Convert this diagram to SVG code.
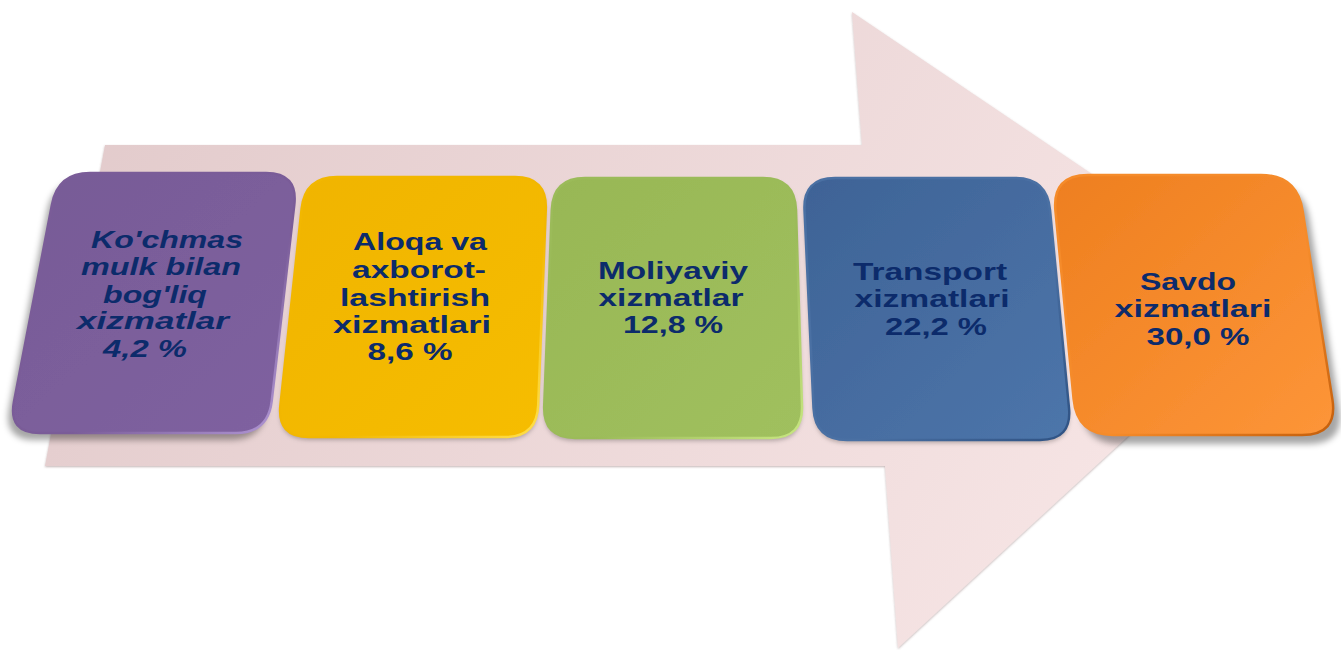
<svg xmlns="http://www.w3.org/2000/svg" width="1341" height="650" viewBox="0 0 1341 650">
<style>
  .lbl { font-family: "Liberation Sans", Arial, sans-serif; font-weight: bold; font-size: 24px; fill: #0c2b6b; text-anchor: middle; }
  .it { font-style: italic; }
  .rim { fill: none; stroke-width: 2.5; }
</style>
<defs>
  <linearGradient id="gArrow" x1="0" y1="0" x2="1" y2="0.3">
    <stop offset="0" stop-color="#e1c9ca"/>
    <stop offset="1" stop-color="#f6e4e4"/>
  </linearGradient>
  <linearGradient id="gPurple" x1="0" y1="0" x2="1" y2="1">
    <stop offset="0" stop-color="#775a96"/>
    <stop offset="1" stop-color="#7f62a0"/>
  </linearGradient>
  <linearGradient id="gYellow" x1="0" y1="0" x2="1" y2="1">
    <stop offset="0" stop-color="#f0b400"/>
    <stop offset="1" stop-color="#f6bd05"/>
  </linearGradient>
  <linearGradient id="gGreen" x1="0" y1="0" x2="1" y2="1">
    <stop offset="0" stop-color="#98b755"/>
    <stop offset="1" stop-color="#a0c05e"/>
  </linearGradient>
  <linearGradient id="gBlue" x1="0" y1="0" x2="1" y2="1">
    <stop offset="0" stop-color="#3e6396"/>
    <stop offset="1" stop-color="#4d75aa"/>
  </linearGradient>
  <linearGradient id="gOrange" x1="0" y1="0" x2="1" y2="1">
    <stop offset="0" stop-color="#ee7f1f"/>
    <stop offset="1" stop-color="#fd9538"/>
  </linearGradient>
  <linearGradient id="rPurple" x1="0" y1="0" x2="1" y2="1">
    <stop offset="0.6" stop-color="#7a5c98"/>
    <stop offset="1" stop-color="#b49ad8"/>
  </linearGradient>
  <linearGradient id="rYellow" x1="0" y1="0" x2="1" y2="1">
    <stop offset="0.6" stop-color="#f2b700"/>
    <stop offset="1" stop-color="#ffe04d"/>
  </linearGradient>
  <linearGradient id="rGreen" x1="0" y1="0" x2="1" y2="1">
    <stop offset="0.6" stop-color="#9bbb59"/>
    <stop offset="1" stop-color="#c8e682"/>
  </linearGradient>
  <linearGradient id="rBlue" x1="0" y1="0" x2="1" y2="1">
    <stop offset="0.6" stop-color="#4a70a3"/>
    <stop offset="1" stop-color="#2f5283"/>
  </linearGradient>
  <linearGradient id="rOrange" x1="0" y1="0" x2="1" y2="1">
    <stop offset="0.6" stop-color="#f58b2a"/>
    <stop offset="1" stop-color="#c45f0c"/>
  </linearGradient>
  <filter id="shL" x="-20%" y="-20%" width="140%" height="140%">
    <feDropShadow dx="-5" dy="7" stdDeviation="3" flood-color="#000" flood-opacity="0.35"/>
  </filter>
  <filter id="shM" x="-20%" y="-20%" width="140%" height="140%">
    <feDropShadow dx="0" dy="3" stdDeviation="2" flood-color="#000" flood-opacity="0.25"/>
  </filter>
  <filter id="shR" x="-20%" y="-20%" width="140%" height="140%">
    <feDropShadow dx="7" dy="9" stdDeviation="3" flood-color="#000" flood-opacity="0.35"/>
  </filter>
  <filter id="shA" x="-5%" y="-5%" width="110%" height="110%">
    <feDropShadow dx="0" dy="1" stdDeviation="1" flood-color="#7a5a5a" flood-opacity="0.45"/>
  </filter>
</defs>

<g id="arrow">
  <polygon points="105,145 862,145 852,12 1277,299 898,648 885,466 45,466" fill="url(#gArrow)" filter="url(#shA)"/>
</g>

<g id="connectors"></g>

<g id="node1">
  <path d="M 90,173 L 266,173 Q 298,173 294.3,204.8 L 271.7,401.2 Q 268,433 236,433 L 40,433 Q 8,433 14,401.6 L 52,204.4 Q 58,173 90,173 Z" fill="url(#gPurple)" filter="url(#shL)"/>
  <path class="rim" d="M 90,173 L 266,173 Q 298,173 294.3,204.8 L 271.7,401.2 Q 268,433 236,433 L 40,433 Q 8,433 14,401.6 L 52,204.4 Q 58,173 90,173 Z" stroke="url(#rPurple)"/>
  <text class="lbl it" x="167" y="248" textLength="152" lengthAdjust="spacingAndGlyphs">Ko'chmas</text>
  <text class="lbl it" x="161" y="275" textLength="160" lengthAdjust="spacingAndGlyphs">mulk bilan</text>
  <text class="lbl it" x="155" y="303" textLength="104" lengthAdjust="spacingAndGlyphs">bog'liq</text>
  <text class="lbl it" x="153" y="329" textLength="152" lengthAdjust="spacingAndGlyphs">xizmatlar</text>
  <text class="lbl it" x="145" y="357" textLength="84" lengthAdjust="spacingAndGlyphs">4,2 %</text>
</g>

<g id="node2">
  <path d="M 337,177 L 515,177 Q 547,177 545.8,209 L 538.2,405 Q 537,437 505,437 L 309,437 Q 277,437 280.4,405.2 L 301.6,208.8 Q 305,177 337,177 Z" fill="url(#gYellow)" filter="url(#shM)"/>
  <path class="rim" d="M 337,177 L 515,177 Q 547,177 545.8,209 L 538.2,405 Q 537,437 505,437 L 309,437 Q 277,437 280.4,405.2 L 301.6,208.8 Q 305,177 337,177 Z" stroke="url(#rYellow)"/>
  <text class="lbl" x="420" y="250" textLength="134" lengthAdjust="spacingAndGlyphs">Aloqa va</text>
  <text class="lbl" x="419" y="278" textLength="134" lengthAdjust="spacingAndGlyphs">axborot-</text>
  <text class="lbl" x="415" y="306" textLength="150" lengthAdjust="spacingAndGlyphs">lashtirish</text>
  <text class="lbl" x="412" y="333" textLength="158" lengthAdjust="spacingAndGlyphs">xizmatlari</text>
  <text class="lbl" x="410" y="360" textLength="85" lengthAdjust="spacingAndGlyphs">8,6 %</text>
</g>

<g id="node3">
  <path d="M 585,178 L 763,178 Q 795,178 796,210 L 802,406 Q 803,438 771,438 L 575,438 Q 543,438 544.2,406 L 551.8,210 Q 553,178 585,178 Z" fill="url(#gGreen)" filter="url(#shM)"/>
  <path class="rim" d="M 585,178 L 763,178 Q 795,178 796,210 L 802,406 Q 803,438 771,438 L 575,438 Q 543,438 544.2,406 L 551.8,210 Q 553,178 585,178 Z" stroke="url(#rGreen)"/>
  <text class="lbl" x="673" y="279" textLength="150" lengthAdjust="spacingAndGlyphs">Moliyaviy</text>
  <text class="lbl" x="671" y="306" textLength="145" lengthAdjust="spacingAndGlyphs">xizmatlar</text>
  <text class="lbl" x="673" y="333" textLength="100" lengthAdjust="spacingAndGlyphs">12,8 %</text>
</g>

<g id="node4">
  <path d="M 835,178 L 1015,178 Q 1047,178 1050,209.9 L 1069,408.1 Q 1072,440 1040,440 L 847,440 Q 815,440 813.5,408 L 804.5,210 Q 803,178 835,178 Z" fill="url(#gBlue)" filter="url(#shM)"/>
  <path class="rim" d="M 835,178 L 1015,178 Q 1047,178 1050,209.9 L 1069,408.1 Q 1072,440 1040,440 L 847,440 Q 815,440 813.5,408 L 804.5,210 Q 803,178 835,178 Z" stroke="url(#rBlue)"/>
  <text class="lbl" x="930" y="280" textLength="154" lengthAdjust="spacingAndGlyphs">Transport</text>
  <text class="lbl" x="932" y="307" textLength="155" lengthAdjust="spacingAndGlyphs">xizmatlari</text>
  <text class="lbl" x="936" y="335" textLength="102" lengthAdjust="spacingAndGlyphs">22,2 %</text>
</g>

<g id="node5">
  <path d="M 1088,175 L 1261,175 Q 1297,175 1302.6,210.6 L 1332.4,399.4 Q 1338,435 1302,435 L 1113,435 Q 1077,435 1073.6,399.2 L 1055.4,210.8 Q 1052,175 1088,175 Z" fill="url(#gOrange)" filter="url(#shR)"/>
  <path class="rim" d="M 1088,175 L 1261,175 Q 1297,175 1302.6,210.6 L 1332.4,399.4 Q 1338,435 1302,435 L 1113,435 Q 1077,435 1073.6,399.2 L 1055.4,210.8 Q 1052,175 1088,175 Z" stroke="url(#rOrange)"/>
  <text class="lbl" x="1188" y="290" textLength="96" lengthAdjust="spacingAndGlyphs">Savdo</text>
  <text class="lbl" x="1193" y="317" textLength="157" lengthAdjust="spacingAndGlyphs">xizmatlari</text>
  <text class="lbl" x="1198" y="345" textLength="103" lengthAdjust="spacingAndGlyphs">30,0 %</text>
</g>
</svg>
